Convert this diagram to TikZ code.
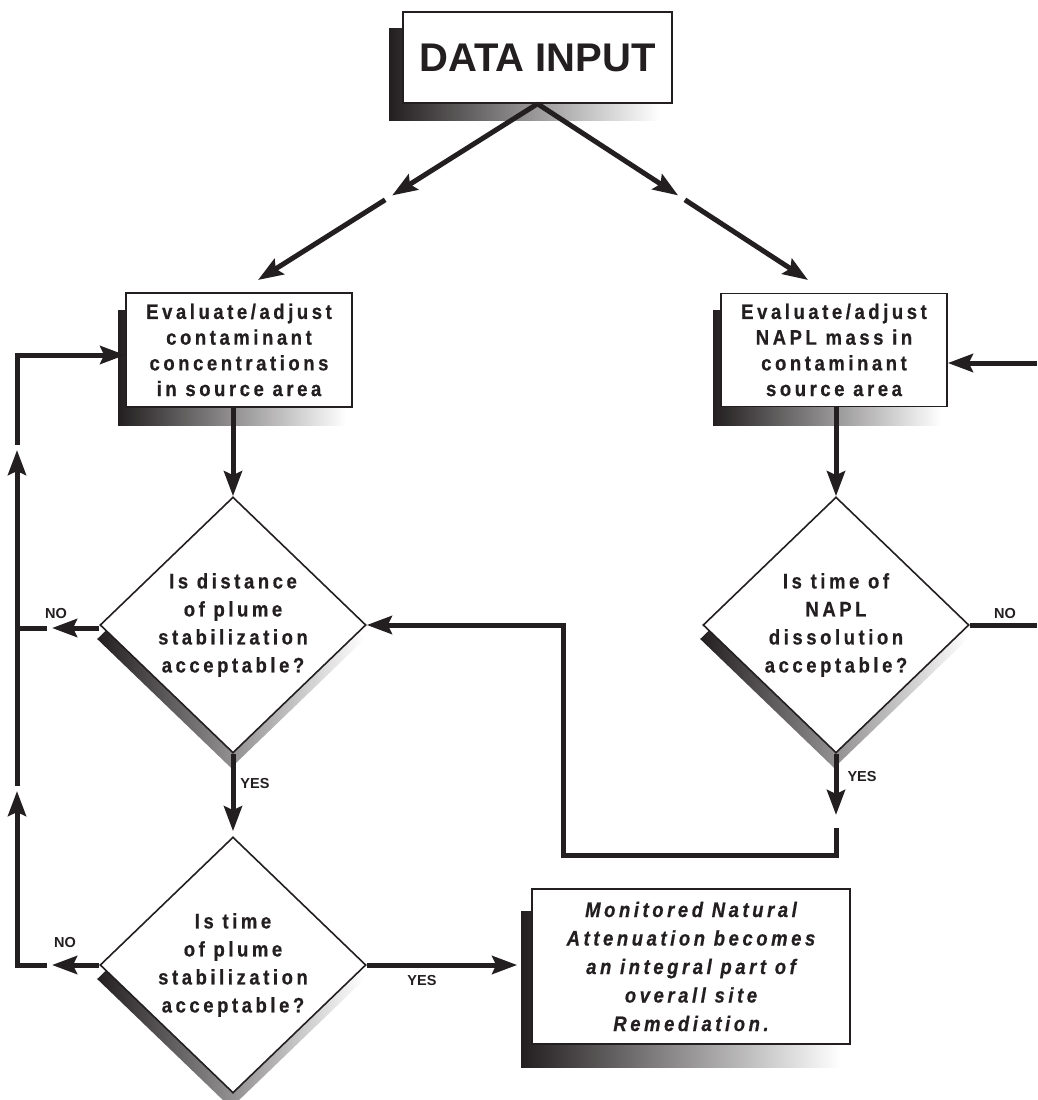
\documentclass[tikz,border=0pt]{standalone}
\usepackage{fontspec}
\setmainfont{Liberation Sans}
\newfontfamily\trackfont{Liberation Sans}[LetterSpace=17, FakeStretch=0.88, FakeBold=0.6]
\usetikzlibrary{shapes.geometric,arrows.meta,calc,backgrounds}
\definecolor{ink}{HTML}{231F20}
\tikzset{
	box/.style={draw=ink, line width=1.6pt, fill=white, text=ink, align=center, inner sep=2pt,
		font=\trackfont\bfseries\fontsize{21}{25.7}\selectfont},
	query/.style={diamond, draw=ink, line width=1.6pt, fill=white, text=ink, align=center, inner sep=0pt,
		minimum width=266pt, minimum height=256pt, font=\trackfont\bfseries\fontsize{21}{28}\selectfont},
	flow/.style={draw=ink, line width=5pt},
	lbl/.style={text=ink, inner sep=0pt, font=\bfseries\fontsize{14.5}{15}\selectfont},
	>={Stealth[length=25pt,width=18pt,inset=4pt]}
}

\begin{document}
\begin{tikzpicture}[x=1pt, y=-1pt]
	\useasboundingbox (0,0) rectangle (1037,1100);
	% boxes and questions
	\node[box, minimum width=269pt, minimum height=91pt, font=\bfseries\fontsize{40}{40}\selectfont] (input) at (537.5,57.5) {DATA INPUT};
	\node[box, minimum width=226pt, minimum height=114pt] (conc) at (239,350) {Evaluate/adjust\\contaminant\\concentrations\\in source area};
	\node[box, minimum width=226pt, minimum height=113pt] (napl) at (834,350) {Evaluate/adjust\\NAPL mass in\\contaminant\\source area};
	\node[query] (dist) at (233,625) {Is distance\\of plume\\stabilization\\acceptable?};
	\node[query] (diss) at (836,625) {Is time of\\NAPL\\dissolution\\acceptable?};
	\node[query] (time) at (233,965) {Is time\\of plume\\stabilization\\acceptable?};
	\node[box, minimum width=318pt, minimum height=155pt, font=\trackfont\bfseries\itshape\fontsize{21}{28.5}\selectfont] (mna) at (691,966.5) {Monitored Natural\\Attenuation becomes\\an integral part of\\overall site\\Remediation.};
	% shadows
	\begin{pgfonlayer}{background}
		\foreach \N/\X/\Y in {input/13/17, conc/7/18, napl/7/18, mna/10/23}
		{\shade[left color=ink, right color=white] ([shift={(-\X,\Y)}]\N.north west) rectangle ([shift={(-\X,\Y)}]\N.south east);}
		\foreach \N in {dist,diss,time}
		{\shade[left color=ink, right color=white] ([shift={(-2,14)}]\N.north) -- ([shift={(-2,14)}]\N.east) -- ([shift={(-2,14)}]\N.south) -- ([shift={(-2,14)}]\N.west) -- cycle;}
	\end{pgfonlayer}
	% free ends and bends
	\coordinate (lt) at (258,280);
	\coordinate (rt) at (808,280);
	\coordinate (noA) at (52,628);
	\coordinate (noB) at (47,628);
	\coordinate (noC) at (52,965);
	\coordinate (noD) at (47,965);
	\coordinate (upA) at (17,450);
	\coordinate (upB) at (17,445);
	\coordinate (upC) at (17,791);
	\coordinate (upD) at (17,786);
	\coordinate (back) at (17,355);
	\coordinate (rin) at (1037,363);
	\coordinate (rout) at (1037,625);
	\coordinate (yesA) at (836,815);
	\coordinate (yesB) at (836,828);
	\coordinate (low) at (563,855);
	% connectors
	\draw[flow,->] (input.south) -- ($(input.south)!0.52!(lt)$);
	\draw[flow,->] ($(input.south)!0.545!(lt)$) -- (lt);
	\draw[flow,->] (input.south) -- ($(input.south)!0.52!(rt)$);
	\draw[flow,->] ($(input.south)!0.545!(rt)$) -- (rt);
	\draw[flow,->] (conc.south -| dist.north) -- (dist.north);
	\draw[flow,->] (napl.south -| diss.north) -- (diss.north);
	\draw[flow,->, shorten >=5pt] (dist.south) -- (time.north);
	\draw[flow,->, shorten >=14pt] (time.east) -- (time.east -| mna.west);
	\draw[flow,->] (dist.west |- noA) -- (noA);
	\draw[flow,->] (time.west) -- (noC);
	\draw[flow,->] (noD) -| (upC);
	\draw[flow,->] (upD) -- (upA);
	\draw[flow] (noB) -- (noB -| upA);
	\draw[flow,->] (upB) -- (back) -- (back -| conc.west);
	\draw[flow] (diss.east) -- (rout);
	\draw[flow,->] (rin) -- (rin -| napl.east);
	\draw[flow,->] (diss.south) -- (yesA);
	\draw[flow,->] (yesB) |- (low) |- (dist.east);
	% answers
	\foreach \P/\T [count=\i] in {{(56,614)}/NO, {(65,942)}/NO, {(1005,614)}/NO, {(255,783)}/YES, {(862,776)}/YES, {(422,980)}/YES}
	{\node[lbl] (ans\i) at \P {\T};}
\end{tikzpicture}
\end{document}
